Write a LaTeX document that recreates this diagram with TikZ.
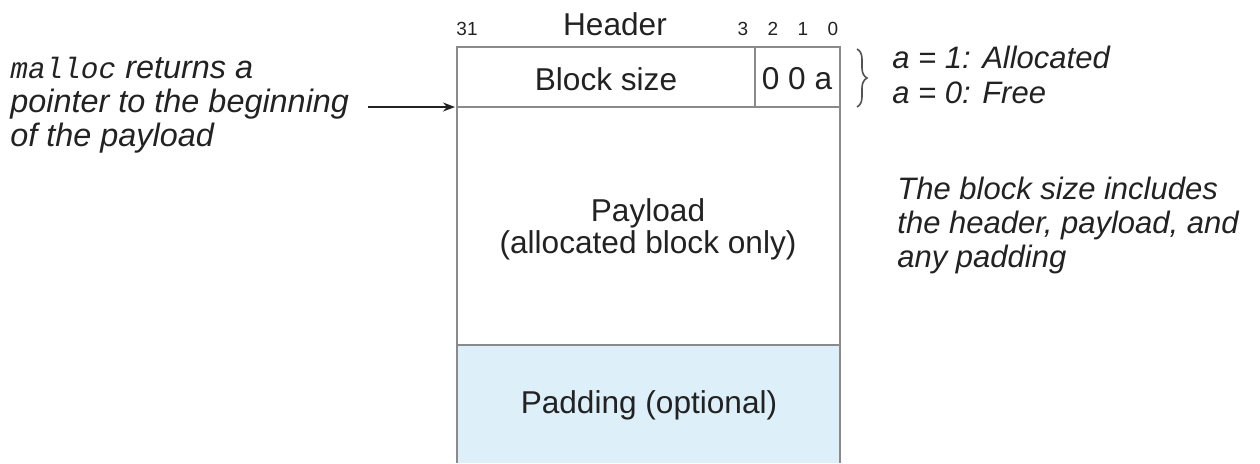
\documentclass[tikz,border=0pt]{standalone}
\usepackage{fontspec}
\setmainfont{Liberation Sans}
\setmonofont{Liberation Mono}
\usetikzlibrary{decorations.pathreplacing,arrows.meta}
\definecolor{boxgray}{HTML}{8A8A8A}
\definecolor{padblue}{HTML}{DDEFF9}
\definecolor{txt}{HTML}{222222}
\begin{document}
\begin{tikzpicture}[x=0.5pt,y=-0.5pt,
  boxline/.style={draw=boxgray,line width=1pt},
  lbl/.style={inner sep=0pt,text=txt,font=\fontsize{15.8}{18}\selectfont},
  bitlbl/.style={inner sep=0pt,text=txt,font=\fontsize{9.5}{11}\selectfont},
  note/.style={inner sep=0pt,text=txt,align=left,anchor=west,font=\fontsize{15.5}{17}\selectfont\itshape},
  ptrarrow/.style={draw=txt,line width=0.7pt,-{Stealth[length=6pt,width=4.5pt]}}]
\useasboundingbox (0,0) rectangle (1260,463);
% padding fill
\fill[padblue] (457,345) rectangle (840,463);
% block outline
\draw[boxline] (457,463) -- (457,47) -- (840,47) -- (840,463);
\draw[boxline] (457,107) -- (840,107);
\draw[boxline] (755,47) -- (755,107);
\draw[boxline] (457,345) -- (840,345);
% header labels
\node[lbl] (header) at (615,24) {Header};
\node[bitlbl] (b31) at (467,29) {31};
\node[bitlbl] (b3) at (743,29) {3};
\node[bitlbl] (b2) at (773,29) {2};
\node[bitlbl] (b1) at (803,29) {1};
\node[bitlbl] (b0) at (833,29) {0};
% cell texts
\node[lbl] (bsize) at (606,79) {Block size};
\node[lbl] (flags) at (797,79) {0 0 a};
\node[lbl,align=center,font=\fontsize{15.8}{16}\selectfont] (payload) at (648,229) {Payload\\(allocated block only)};
\node[lbl] (padding) at (649,405) {Padding (optional)};
% brace and flag notes
\draw[boxgray!60!black,line width=0.8pt,decoration={brace,amplitude=5pt}] decorate {(857,49) -- (857,107)};
\node[note,font=\fontsize{15.5}{17.5}\selectfont\itshape] (flagnote) at (892,75) {a = 1: Allocated\\a = 0: Free};
% left note and pointer arrow
\node[note,font=\fontsize{16.2}{17}\selectfont\itshape] (mallocnote) at (10,105) {{\fontsize{14.7}{17}\selectfont\texttt{malloc}} returns a\\pointer to the beginning\\of the payload};
\coordinate (arrowstart) at (368,107);
\coordinate (payloadtop) at (455,107);
\draw[ptrarrow] (arrowstart) -- (payloadtop);
% right note
\node[note] (sizenote) at (897,225) {The block size includes\\the header, payload, and\\any padding};
\end{tikzpicture}
\end{document}
